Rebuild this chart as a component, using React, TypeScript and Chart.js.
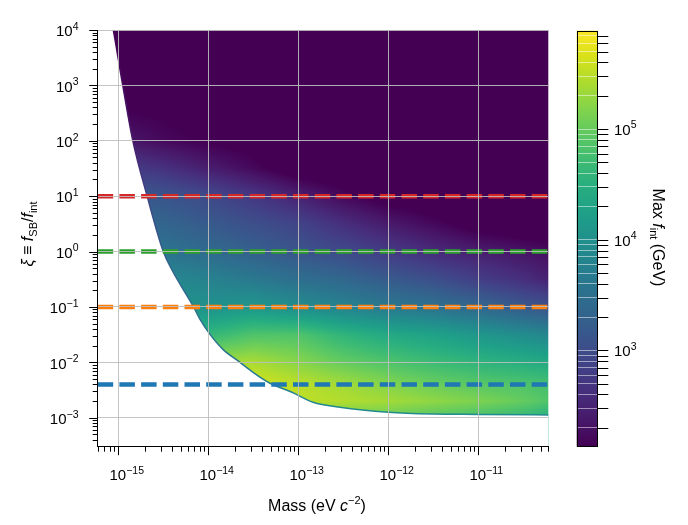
import React, { useEffect, useRef } from 'react';
import { Chart, registerables } from 'chart.js';

Chart.register(...registerables);

// ---------- axis ranges ----------
const MASS_MIN = 5.9e-16;
const MASS_MAX = 6.0e-11;
const XI_MIN = 3.1e-4;
const XI_MAX = 1e4;
const FINT_MIN = 135; // colour-bar range (GeV)
const FINT_MAX = 7.75e5;

// ---------- tick labels (major ticks, powers of ten) ----------
const massMajorTicks = [1e-15, 1e-14, 1e-13, 1e-12, 1e-11];
const xiMajorTicks = [1e-3, 1e-2, 1e-1, 1, 10, 100, 1e3, 1e4];
const fintMajorTicks = [1e3, 1e4, 1e5];

// ---------- heat-map: log10(max f_int / GeV) ----------
const gridMassExp = [-15.25, -15.0, -14.5, -14.0, -13.5, -13.0, -12.5, -12.0, -11.5, -11.0, -10.5, -10.2];
const gridXiExp = [4, 2.5, 2, 1.5, 1, 0.5, 0, -0.5, -1, -1.5, -2, -2.4, -2.7, -3.0, -3.5];
const row_p4 = [2.0, 2.0, 2.0, 2.0, 2.0, 2.0, 2.0, 2.0, 2.0, 2.0, 2.0, 2.0];
const row_p25 = [2.15, 2.15, 2.1, 2.0, 2.0, 2.0, 2.0, 2.0, 2.0, 2.0, 2.0, 2.0];
const row_p2 = [2.43, 2.39, 2.21, 2.1, 2.0, 1.95, 1.9, 1.9, 1.9, 1.9, 1.9, 1.9];
const row_p15 = [2.96, 2.84, 2.66, 2.43, 2.21, 1.95, 1.9, 1.9, 1.9, 1.9, 1.9, 1.9];
const row_p1 = [3.26, 3.22, 3.11, 2.96, 2.73, 2.47, 2.2, 2.0, 1.9, 1.85, 1.8, 1.8];
const row_p05 = [3.48, 3.45, 3.33, 3.18, 3.03, 2.88, 2.62, 2.39, 2.21, 2.0, 1.9, 1.85];
const row_0 = [3.71, 3.67, 3.56, 3.41, 3.26, 3.11, 2.96, 2.77, 2.58, 2.43, 2.32, 2.24];
const row_m05 = [4.01, 3.97, 3.86, 3.78, 3.63, 3.48, 3.37, 3.18, 3.03, 2.81, 2.62, 2.47];
const row_m1 = [4.2, 4.16, 4.05, 4.01, 4.09, 3.93, 3.78, 3.63, 3.52, 3.37, 3.18, 3.07];
const row_m15 = [4.76, 4.72, 4.65, 4.61, 4.84, 4.84, 4.57, 4.39, 4.27, 4.09, 3.93, 3.82];
const row_m2 = [5.36, 5.36, 5.36, 5.36, 5.4, 5.21, 4.99, 4.84, 4.69, 4.57, 4.46, 4.39];
const row_m24 = [5.63, 5.63, 5.63, 5.63, 5.63, 5.51, 5.36, 5.18, 5.03, 4.91, 4.84, 4.76];
const row_m27 = [5.63, 5.63, 5.63, 5.63, 5.63, 5.51, 5.44, 5.36, 5.25, 5.14, 4.99, 4.84];
const row_m3 = [5.14, 5.14, 5.14, 5.14, 5.14, 5.14, 5.06, 4.99, 4.88, 4.76, 4.61, 4.46];
const row_m35 = [5.14, 5.14, 5.14, 5.14, 5.14, 5.14, 5.06, 4.99, 4.88, 4.76, 4.61, 4.46];
const gridLogFint = [row_p4, row_p25, row_p2, row_p15, row_p1, row_p05, row_0, row_m05, row_m1, row_m15, row_m2, row_m24, row_m27, row_m3, row_m35];

// ---------- edge of the allowed region (left/below is empty) ----------
const boundaryMass = [5.0e-16, 8.8e-16, 1.12e-15, 1.45e-15, 2.09e-15, 3.16e-15, 3.92e-15, 6.81e-15, 8.09e-15, 1.045e-14, 1.455e-14, 2.25e-14, 3.14e-14, 4.85e-14, 8.51e-14, 1.456e-13, 2.9e-13, 1.0e-12, 3.16e-12, 1.0e-11, 7.0e-11];
const boundaryXi = [1e6, 1e4, 1e3, 1e2, 10, 1, 0.474, 0.102, 0.0596, 0.032, 0.01714, 0.01, 0.0066, 0.00419, 0.00288, 0.00191, 0.00155, 0.00126, 0.00117, 0.00115, 0.00112];

// ---------- horizontal reference lines ----------
const refXi = [10, 1, 0.1, 0.004];
const refColors = ['#d62728', '#2ca02c', '#ff7f0e', '#1f77b4'];

// ---------- styling ----------
const FONT = '"Liberation Sans", Arial, Helvetica, sans-serif';
const GRID_COLOR = 'rgba(190,190,190,0.9)';
const VIRIDIS = ['#440154', '#48186a', '#472d7b', '#424086', '#3b528b', '#33638d', '#2c728e', '#26828e', '#21918c', '#1fa088', '#28ae80', '#3fbc73', '#5ec962', '#84d44b', '#addc30', '#d8e219', '#fde725'];
const RIM_STOPS: [number, string][] = [
  [4, 'rgba(68,1,84,1)'], [2, 'rgba(70,25,105,1)'], [1, 'rgba(62,70,135,1)'], [0, 'rgba(52,94,141,1)'],
  [-1, 'rgba(44,114,142,1)'], [-2, 'rgba(40,118,142,1)'], [-2.6, 'rgba(36,132,142,1)'], [-3, 'rgba(33,140,140,1)'],
];

const VIR_RGB = VIRIDIS.map((h) => [parseInt(h.slice(1, 3), 16), parseInt(h.slice(3, 5), 16), parseInt(h.slice(5, 7), 16)]);
function viridis(t: number): number[] {
  const c = Math.max(0, Math.min(1, t)) * (VIR_RGB.length - 1);
  const i = Math.min(VIR_RGB.length - 2, Math.floor(c));
  const f = c - i;
  const a = VIR_RGB[i], b = VIR_RGB[i + 1];
  return [a[0] + (b[0] - a[0]) * f, a[1] + (b[1] - a[1]) * f, a[2] + (b[2] - a[2]) * f];
}
const LMIN = Math.log10(FINT_MIN), LMAX = Math.log10(FINT_MAX);
const tOf = (logv: number) => (logv - LMIN) / (LMAX - LMIN);

function locate(arr: number[], v: number): [number, number] {
  const n = arr.length;
  const asc = arr[n - 1] > arr[0];
  for (let i = 0; i < n - 1; i++) {
    const a = arr[i], b = arr[i + 1];
    if ((asc && v >= a && v <= b) || (!asc && v <= a && v >= b)) return [i, (v - a) / (b - a)];
  }
  if ((asc && v < arr[0]) || (!asc && v > arr[0])) return [0, 0];
  return [n - 2, 1];
}

function logTicks(min: number, max: number, majors: number[]) {
  const out: any[] = [];
  const d0 = Math.floor(Math.log10(min)), d1 = Math.floor(Math.log10(max));
  for (let d = d0; d <= d1; d++) {
    for (let k = 1; k <= 9; k++) {
      const v = k * Math.pow(10, d);
      if (v >= min * (1 - 1e-9) && v <= max * (1 + 1e-9)) {
        const major = majors.some((m) => Math.abs(m - v) / m < 1e-6);
        out.push({ value: v, major });
      }
    }
  }
  return out;
}

type Seg = { t: string; size: number; italic?: boolean; dy?: number };
const segFont = (s: Seg) => `${s.italic ? 'italic ' : ''}${s.size}px ${FONT}`;
function segsWidth(ctx: CanvasRenderingContext2D, segs: Seg[]) {
  let w = 0;
  for (const s of segs) { ctx.font = segFont(s); w += ctx.measureText(s.t).width; }
  return w;
}
function drawSegs(ctx: CanvasRenderingContext2D, segs: Seg[], x: number, y: number) {
  let cx = x;
  ctx.textAlign = 'left';
  ctx.textBaseline = 'alphabetic';
  for (const s of segs) {
    ctx.font = segFont(s);
    ctx.fillText(s.t, cx, y + (s.dy || 0));
    cx += ctx.measureText(s.t).width;
  }
}
const expText = (e: number) => (e < 0 ? '\u2212' + Math.abs(e) : String(e));
const powSegs = (v: number): Seg[] => [
  { t: '10', size: 15 },
  { t: expText(Math.round(Math.log10(v))), size: 10.5, dy: -6.5 },
];

// ---------- plugins ----------
const heatmapPlugin = {
  id: 'heatmap',
  beforeDatasetsDraw(chart: any) {
    const { ctx, chartArea: a, scales } = chart;
    const xs = scales.x, ys = scales.y;
    const x0 = Math.floor(a.left), x1 = Math.ceil(a.right);
    const y0 = Math.floor(a.top), y1 = Math.ceil(a.bottom);
    const w = x1 - x0, h = y1 - y0;
    const off = document.createElement('canvas');
    off.width = w; off.height = h;
    const octx = off.getContext('2d')!;
    const img = octx.createImageData(w, h);
    const cols = [];
    for (let i = 0; i < w; i++) cols.push(locate(gridMassExp, Math.log10(xs.getValueForPixel(x0 + i + 0.5))));
    for (let j = 0; j < h; j++) {
      const [r, fr] = locate(gridXiExp, Math.log10(ys.getValueForPixel(y0 + j + 0.5)));
      const rowA = gridLogFint[r], rowB = gridLogFint[r + 1];
      for (let i = 0; i < w; i++) {
        const [c, fc] = cols[i];
        const top = rowA[c] + (rowA[c + 1] - rowA[c]) * fc;
        const bot = rowB[c] + (rowB[c + 1] - rowB[c]) * fc;
        const v = top + (bot - top) * fr;
        const col = viridis(tOf(v));
        const k = (j * w + i) * 4;
        img.data[k] = col[0]; img.data[k + 1] = col[1]; img.data[k + 2] = col[2]; img.data[k + 3] = 255;
      }
    }
    octx.putImageData(img, 0, 0);
    ctx.save();
    ctx.beginPath();
    ctx.rect(a.left, a.top, a.right - a.left, a.bottom - a.top);
    ctx.clip();
    ctx.drawImage(off, x0, y0);
    ctx.restore();
  },
};

const mainDecor = {
  id: 'mainDecor',
  afterDraw(chart: any) {
    const { ctx, chartArea: a, scales } = chart;
    const xs = scales.x, ys = scales.y;
    ctx.save();
    ctx.strokeStyle = '#000';
    ctx.lineWidth = 1;
    ctx.beginPath();
    for (const t of xs.ticks) {
      const px = Math.round(xs.getPixelForValue(t.value)) + 0.5;
      ctx.moveTo(px, a.bottom);
      ctx.lineTo(px, a.bottom + (t.major ? 8.5 : 5));
    }
    for (const t of ys.ticks) {
      const py = Math.round(ys.getPixelForValue(t.value)) + 0.5;
      ctx.moveTo(a.left, py);
      ctx.lineTo(a.left - (t.major ? 8.5 : 5), py);
    }
    ctx.stroke();
    ctx.fillStyle = '#000';
    for (const v of massMajorTicks) {
      const px = xs.getPixelForValue(v);
      const segs = powSegs(v);
      ctx.font = segFont(segs[0]);
      const bw = ctx.measureText('10').width;
      drawSegs(ctx, segs, px - bw / 2 - 0.5, a.bottom + 33.3);
    }
    for (const v of xiMajorTicks) {
      const py = ys.getPixelForValue(v);
      const segs = powSegs(v);
      drawSegs(ctx, segs, 78.5 - segsWidth(ctx, segs), py + 6.3);
    }
    // x title
    const xt: Seg[] = [
      { t: 'Mass (eV ', size: 16 }, { t: 'c', size: 16, italic: true },
      { t: '\u22122', size: 11, dy: -6.5 }, { t: ')', size: 16 },
    ];
    drawSegs(ctx, xt, 317 - segsWidth(ctx, xt) / 2, 510.5);
    // y title
    const yt: Seg[] = [
      { t: '\u03BE', size: 16, italic: true }, { t: ' \u2261 ', size: 16 },
      { t: 'f', size: 16, italic: true }, { t: 'SB', size: 11, dy: 3.5 },
      { t: '/', size: 16 }, { t: 'f', size: 16, italic: true }, { t: 'int', size: 11, dy: 3.5 },
    ];
    const yw = segsWidth(ctx, yt);
    ctx.translate(33, 234);
    ctx.rotate(-Math.PI / 2);
    drawSegs(ctx, yt, -yw / 2, 0);
    ctx.restore();
  },
};

const colorbarPlugin = {
  id: 'colorbar',
  beforeDatasetsDraw(chart: any) {
    const { ctx, chartArea: a, scales } = chart;
    const ys = scales.y;
    ctx.save();
    for (let py = Math.floor(a.top); py < Math.ceil(a.bottom); py++) {
      const v = Math.log10(ys.getValueForPixel(py + 0.5));
      const c = viridis(tOf(v));
      ctx.fillStyle = `rgb(${c[0] | 0},${c[1] | 0},${c[2] | 0})`;
      const top = Math.max(py, a.top), bot = Math.min(py + 1, a.bottom);
      ctx.fillRect(a.left, top, a.right - a.left, bot - top);
    }
    ctx.restore();
  },
  afterDraw(chart: any) {
    const { ctx, chartArea: a, scales } = chart;
    const ys = scales.y;
    ctx.save();
    ctx.strokeStyle = '#000';
    ctx.lineWidth = 1;
    ctx.strokeRect(Math.round(a.left) + 0.5, Math.round(a.top) + 0.5, Math.round(a.right - a.left) - 1, Math.round(a.bottom - a.top) - 1);
    ctx.beginPath();
    for (const t of ys.ticks) {
      const py = Math.round(ys.getPixelForValue(t.value)) + 0.5;
      ctx.moveTo(a.right, py);
      ctx.lineTo(a.right + 11, py);
    }
    ctx.stroke();
    ctx.fillStyle = '#000';
    for (const v of fintMajorTicks) {
      const py = ys.getPixelForValue(v);
      drawSegs(ctx, powSegs(v), a.right + 16.7, py + 5.8);
    }
    const ct: Seg[] = [
      { t: 'Max ', size: 16 }, { t: 'f', size: 16, italic: true },
      { t: 'int', size: 11, dy: 3.5 }, { t: ' (GeV)', size: 16 },
    ];
    const cw = segsWidth(ctx, ct);
    ctx.translate(93, 237.5);
    ctx.rotate(Math.PI / 2);
    drawSegs(ctx, ct, -cw / 2, 0);
    ctx.restore();
  },
};

function rimColor(c: any) {
  const chart = c.chart;
  const a = chart.chartArea;
  const ys = chart.scales && chart.scales.y;
  if (!a || !ys) return 'rgba(50,90,140,1)';
  const g = chart.ctx.createLinearGradient(0, a.top, 0, a.bottom);
  for (const [lx, col] of RIM_STOPS) {
    const p = (ys.getPixelForValue(Math.pow(10, lx)) - a.top) / (a.bottom - a.top);
    g.addColorStop(Math.max(0, Math.min(1, p)), col);
  }
  return g;
}

export default function App() {
  const mainRef = useRef<HTMLCanvasElement>(null);
  const cbRef = useRef<HTMLCanvasElement>(null);

  useEffect(() => {
    document.body.style.margin = '0';
    const gridColor = (c: any) => (c.tick && c.tick.major ? GRID_COLOR : 'rgba(0,0,0,0)');

    const main = new Chart(mainRef.current!, {
      type: 'line',
      data: {
        datasets: [
          ...refXi.map((v, i) => ({
            label: 'xi = ' + v,
            data: [{ x: MASS_MIN, y: v }, { x: MASS_MAX, y: v }],
            borderColor: refColors[i],
            borderWidth: 4.5,
            borderDash: [15.5, 6.2],
            pointRadius: 0,
            fill: false,
            order: 0,
          })),
          {
            label: 'excluded',
            data: boundaryMass.map((m, i) => ({ x: m, y: boundaryXi[i] })),
            backgroundColor: '#ffffff',
            borderColor: rimColor,
            borderWidth: 1.5,
            fill: 'start',
            pointRadius: 0,
            cubicInterpolationMode: 'monotone',
            order: 1,
            clip: 0,
          },
        ] as any,
      },
      options: {
        responsive: false,
        animation: false,
        devicePixelRatio: 1,
        events: [],
        layout: { padding: { left: 0, top: 30, right: 139.7, bottom: 0 } },
        plugins: { legend: { display: false }, tooltip: { enabled: false } },
        scales: {
          x: {
            type: 'logarithmic', position: 'bottom', min: MASS_MIN, max: MASS_MAX,
            grid: { color: gridColor, drawTicks: false, lineWidth: 1, z: 1 },
            border: { display: true, color: '#000', width: 1, z: 2 },
            ticks: { display: false },
            afterBuildTicks: (s: any) => { s.ticks = logTicks(MASS_MIN, MASS_MAX, massMajorTicks); },
            afterFit: (s: any) => { s.height = 78.3; },
          },
          y: {
            type: 'logarithmic', position: 'left', min: XI_MIN, max: XI_MAX,
            grid: { color: gridColor, drawTicks: false, lineWidth: 1, z: 1 },
            border: { display: true, color: '#000', width: 1, z: 2 },
            ticks: { display: false },
            afterBuildTicks: (s: any) => { s.ticks = logTicks(XI_MIN, XI_MAX, xiMajorTicks); },
            afterFit: (s: any) => { s.width = 97.7; },
          },
        } as any,
      },
      plugins: [heatmapPlugin, mainDecor],
    } as any);

    const cb = new Chart(cbRef.current!, {
      type: 'line',
      data: { datasets: [] },
      options: {
        responsive: false,
        animation: false,
        devicePixelRatio: 1,
        events: [],
        layout: { padding: { left: 16.7, top: 30.7, right: 0, bottom: 78.3 } },
        plugins: { legend: { display: false }, tooltip: { enabled: false } },
        scales: {
          x: { type: 'linear', display: false },
          y: {
            type: 'logarithmic', position: 'right', min: FINT_MIN, max: FINT_MAX,
            grid: { color: 'rgba(255,255,255,0.5)', drawTicks: false, lineWidth: 1, z: 1 },
            border: { display: false },
            ticks: { display: false },
            afterBuildTicks: (s: any) => { s.ticks = logTicks(FINT_MIN, FINT_MAX, fintMajorTicks); },
            afterFit: (s: any) => { s.width = 90.7; },
          },
        } as any,
      },
      plugins: [colorbarPlugin],
    } as any);

    return () => {
      main.destroy();
      cb.destroy();
    };
  }, []);

  return (
    <div style={{ position: 'relative', width: 688, height: 525, background: '#fff', overflow: 'hidden' }}>
      <canvas ref={mainRef} width={688} height={525} style={{ position: 'absolute', left: 0, top: 0 }} />
      <canvas ref={cbRef} width={128} height={525} style={{ position: 'absolute', left: 560, top: 0 }} />
    </div>
  );
}
